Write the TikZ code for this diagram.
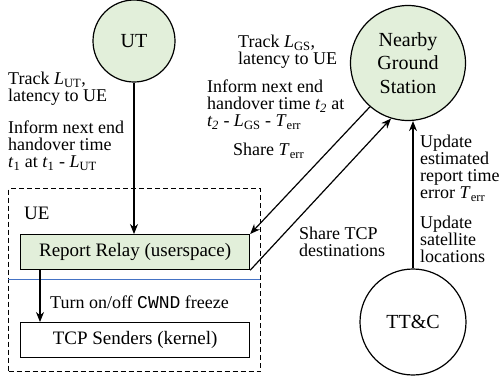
\documentclass[tikz,border=0pt]{standalone}
\usepackage{fontspec}
\setmainfont{Liberation Serif}
\setmonofont{Liberation Mono}
\usetikzlibrary{arrows.meta,calc}
\definecolor{lgreen}{HTML}{E2EFDA}
\definecolor{lblue}{HTML}{4472C4}
\begin{document}
\begin{tikzpicture}[x=1pt,y=-1pt,
  lbl/.style={anchor=north west, inner sep=0pt, align=left, font=\fontsize{18}{17}\selectfont},
  circ/.style={circle, draw, line width=1.2pt, inner sep=0pt},
  box/.style={draw, line width=1.2pt, minimum width=229pt, minimum height=35pt, anchor=north west, font=\fontsize{19}{22}\selectfont},
  arr/.style={line width=1.2pt, -{Stealth[length=10pt,width=8pt]}}]
\useasboundingbox (0,0) rectangle (500,381);
\node[circ, fill=lgreen, minimum size=82pt, font=\fontsize{20}{23}\selectfont] (UT) at (134,41) {UT};
\node[circ, fill=lgreen, minimum size=115pt, align=center, font=\fontsize{20}{23.5}\selectfont] (GS) at (408,63) {Nearby\\Ground\\Station};
\node[circ, fill=white, minimum size=106pt, font=\fontsize{20}{23}\selectfont] (TTC) at (413,322) {TT\&C};
\node[draw, dashed, dash pattern=on 5pt off 3pt, line width=1pt, minimum width=252pt, minimum height=183pt, anchor=north west, inner sep=0pt] (UEbox) at (8,188) {};
\coordinate (bl) at (8,279);
\coordinate (br) at (260,279);
\draw[lblue, line width=0.7pt] (bl) -- (br);
\node[anchor=west, inner sep=0pt, font=\fontsize{19}{22}\selectfont] (UElbl) at (24,213) {UE};
\node[box, fill=lgreen] (RR) at (20,234) {Report Relay (userspace)};
\node[box] (TCP) at (20,322) {TCP Senders (kernel)};
\draw[arr] (UT.south) -- (UT.south |- RR.north);
\draw[arr] ([xshift=20pt]RR.south west) -- ([xshift=20pt]TCP.north west);
\draw[arr] (GS.229) -- (RR.north east);
\draw[arr] (RR.south east) -- (GS.253);
\draw[arr] (TTC.north) -- (TTC.north |- GS.south);
\node[lbl] (t1) at (8,72) {Track \textit{L}\textsubscript{UT},\\latency to UE};
\node[lbl] (t2) at (8,121) {Inform next end\\handover time\\\textit{t}\textsubscript{1} at \textit{t}\textsubscript{1} - \textit{L}\textsubscript{UT}};
\node[lbl] (t3) at (238,35) {Track \textit{L}\textsubscript{GS},\\latency to UE};
\node[lbl] (t4) at (207,80) {Inform next end\\handover time \textit{t\textsubscript{2}} at\\\textit{t\textsubscript{2}} - \textit{L}\textsubscript{GS} - \textit{T}\textsubscript{err}};
\node[lbl] (t5) at (233,143) {Share \textit{T}\textsubscript{err}};
\node[lbl] (t6) at (299,227) {Share TCP\\destinations};
\node[lbl] (t7) at (420,135) {Update\\estimated\\report time\\error \textit{T}\textsubscript{err}};
\node[lbl] (t8) at (420,216) {Update\\satellite\\locations};
\node[anchor=west, inner sep=0pt, font=\fontsize{18}{20}\selectfont] (t9) at (50,302) {Turn on/off {\ttfamily CWND} freeze};
\end{tikzpicture}
\end{document}
